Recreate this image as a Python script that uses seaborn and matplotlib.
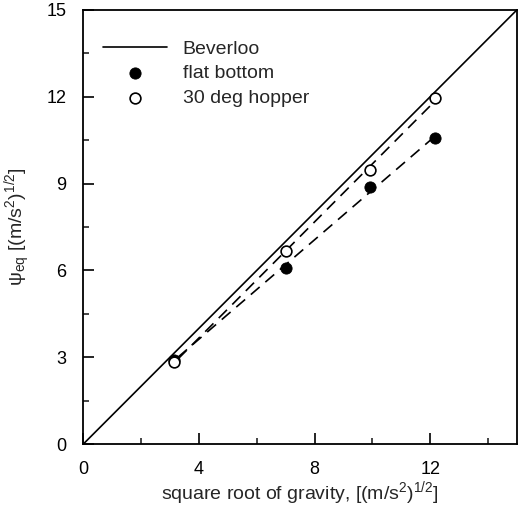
import numpy as np
import pandas as pd
import matplotlib
matplotlib.use("Agg")
import matplotlib.pyplot as plt
import seaborn as sns

# Data
beverloo_x = [0.0, 15.0]
beverloo_y = [0.0, 15.0]

flat_x = [3.13, 7.00, 9.91, 12.17]
flat_y = [2.90, 6.08, 8.87, 10.56]

hopper_x = [3.13, 7.01, 9.92, 12.17]
hopper_y = [2.83, 6.68, 9.46, 11.96]

x_ticks = [0, 4, 8, 12]
y_ticks = [0, 3, 6, 9, 12, 15]

sns.set_style("ticks")
plt.rcParams['font.family'] = ['Liberation Sans', 'DejaVu Sans']
plt.rcParams['mathtext.fontset'] = 'custom'
plt.rcParams['mathtext.rm'] = 'Liberation Sans'
plt.rcParams['mathtext.it'] = 'Liberation Sans:italic'
plt.rcParams['mathtext.default'] = 'rm'

fig = plt.figure(figsize=(5.21, 5.09), dpi=100)
ax = fig.add_axes([0.160, 0.1277, 0.832, 0.8527])

# Beverloo line
sns.lineplot(x=beverloo_x, y=beverloo_y, ax=ax, color='black', lw=1.2,
             label='Beverloo', sort=False)

# Linear fits (dashed)
for xs, ys in [(flat_x, flat_y), (hopper_x, hopper_y)]:
    m, b = np.polyfit(xs, ys, 1)
    fx = np.array([min(xs) + 0.15, max(xs)])
    ax.plot(fx, m * fx + b, color='black', lw=1.2, dashes=(7, 4.5))

sns.scatterplot(x=flat_x, y=flat_y, ax=ax, color='black', edgecolor='black',
                s=65, marker='o', label='flat bottom', zorder=5)
sns.scatterplot(x=hopper_x, y=hopper_y, ax=ax, facecolor='white', edgecolor='black',
                linewidth=1.2, s=60, marker='o', label='30 deg hopper', zorder=6)

ax.set_xlim(0, 15)
ax.set_ylim(0, 15)
ax.set_xticks(x_ticks)
ax.set_yticks(y_ticks)
ax.set_xticks([2, 6, 10, 14], minor=True)
ax.set_yticks([1.5, 4.5, 7.5, 10.5, 13.5], minor=True)
ax.tick_params(which='major', direction='in', length=8, width=1.2,
               labelsize=13, colors='black', pad=12)
ax.tick_params(which='minor', direction='in', length=4.5, width=1.2)
for s in ax.spines.values():
    s.set_visible(True)
    s.set_linewidth(1.3)
    s.set_color('black')

ax.set_xlabel(r'square root of gravity, [(m/s$^2$)$^{1/2}$]', fontsize=14, labelpad=1)
ax.set_ylabel(r'$\psi_{eq}$ [(m/s$^2$)$^{1/2}$]', fontsize=14, labelpad=10)

leg = ax.legend(loc='upper left', frameon=False, fontsize=14, handlelength=3.3,
                handletextpad=0.8, labelspacing=0.35, borderaxespad=0.6,
                bbox_to_anchor=(0.0, 0.975))

fig.savefig('out.png', dpi=100)
